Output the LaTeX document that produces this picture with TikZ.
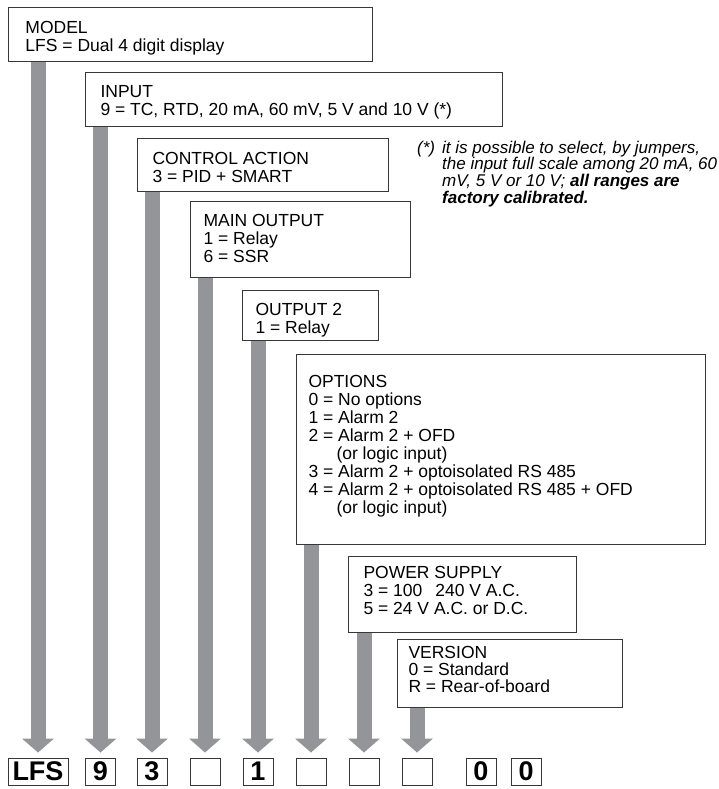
\documentclass[tikz,border=0pt]{standalone}
\usepackage{fontspec}
\setmainfont{Liberation Sans}
\usetikzlibrary{arrows.meta}

\definecolor{shaftgray}{RGB}{148,149,152}
\definecolor{framegray}{RGB}{55,55,55}

% box text: width, height, first baseline, left pad, lines
\newcommand{\boxlines}[5]{\parbox[c][#2pt][t]{#1pt}{\leftskip=#4pt\rule{0pt}{#3pt}#5}}

\tikzset{
  selbox/.style={draw=framegray, line width=1pt, fill=white, inner sep=0pt,
    anchor=north west, font=\fontsize{17.5}{18}\selectfont},
  digitbox/.style={draw=framegray, line width=1pt, inner sep=0pt,
    minimum width=30pt, minimum height=27pt, font=\fontsize{27}{27}\selectfont\bfseries},
  feed/.style={draw=shaftgray, line width=15pt, shorten >=5pt,
    -{Triangle[width=32pt,length=14pt,line width=0pt]}},
  notetext/.style={anchor=base west, inner sep=0pt, font=\fontsize{17}{15}\selectfont\itshape}
}

\begin{document}
\begin{tikzpicture}[x=1pt,y=-1pt]
            \useasboundingbox (0,0) rectangle (718,789);
            % code fields
            \node[selbox] (model) at (8,7) {\boxlines{364}{54}{26}{17}{MODEL\\LFS = Dual 4 digit display}};
            \node[selbox] (input) at (85,72) {\boxlines{417}{54}{25}{15}{INPUT\\9 = TC, RTD, 20 mA, 60 mV, 5 V and 10 V (*)}};
            \node[selbox] (action) at (137,138) {\boxlines{251}{53}{26}{15}{CONTROL ACTION\\3 = PID + SMART}};
            \node[selbox] (mainout) at (190,201) {\boxlines{220}{76}{25}{13}{MAIN OUTPUT\\1 = Relay\\6 = SSR}};
            \node[selbox] (outtwo) at (242,290) {\boxlines{136}{50}{25}{13}{OUTPUT 2\\1 = Relay}};
            \node[selbox] (options) at (296,354) {\boxlines{409}{190}{33}{12}{OPTIONS\\0 = No options\\1 = Alarm 2\\2 = Alarm 2 + OFD\\\hspace*{28pt}(or logic input)\\3 = Alarm 2 + optoisolated RS 485\\4 = Alarm 2 + optoisolated RS 485 + OFD\\\hspace*{28pt}(or logic input)}};
            \node[selbox] (power) at (348,556) {\boxlines{228}{76}{22}{15}{POWER SUPPLY\\3 = 100\hspace{13pt}240 V A.C.\\5 = 24 V A.C. or D.C.}};
            \node[selbox, font=\fontsize{17.5}{17}\selectfont] (version) at (397,639) {\boxlines{225}{68}{19}{11}{VERSION\\0 = Standard\\R = Rear-of-board}};
            % footnote
            \node[notetext] (notemark) at (417,153) {(*)};
            \node[notetext] (note) at (442,153) {\parbox[t]{276pt}{it is possible to select, by jumpers,\\the input full scale among 20 mA, 60\\mV, 5 V or 10 V; \textbf{all ranges are}\\\textbf{factory calibrated.}}};
            % order code
            \node[digitbox, minimum width=60pt] (dlfs) at (38,771.5) {LFS};
            \node[digitbox] (dnine) at (100.5,771.5) {9};
            \node[digitbox] (dthree) at (152,771.5) {3};
            \node[digitbox] (dmain) at (205,771.5) {};
            \node[digitbox] (done) at (258,771.5) {1};
            \node[digitbox] (dopt) at (311,771.5) {};
            \node[digitbox] (dpow) at (364,771.5) {};
            \node[digitbox] (dver) at (417,771.5) {};
            \node[digitbox] (dzeroa) at (481,771.5) {0};
            \node[digitbox] (dzerob) at (526,771.5) {0};
            % arrows
            \draw[feed] (model.south -| dlfs.north) -- (dlfs.north);
            \draw[feed] (input.south -| dnine.north) -- (dnine.north);
            \draw[feed] (action.south -| dthree.north) -- (dthree.north);
            \draw[feed] (mainout.south -| dmain.north) -- (dmain.north);
            \draw[feed] (outtwo.south -| done.north) -- (done.north);
            \draw[feed] (options.south -| dopt.north) -- (dopt.north);
            \draw[feed] (power.south -| dpow.north) -- (dpow.north);
            \draw[feed] (version.south -| dver.north) -- (dver.north);
        \end{tikzpicture}
\end{document}
